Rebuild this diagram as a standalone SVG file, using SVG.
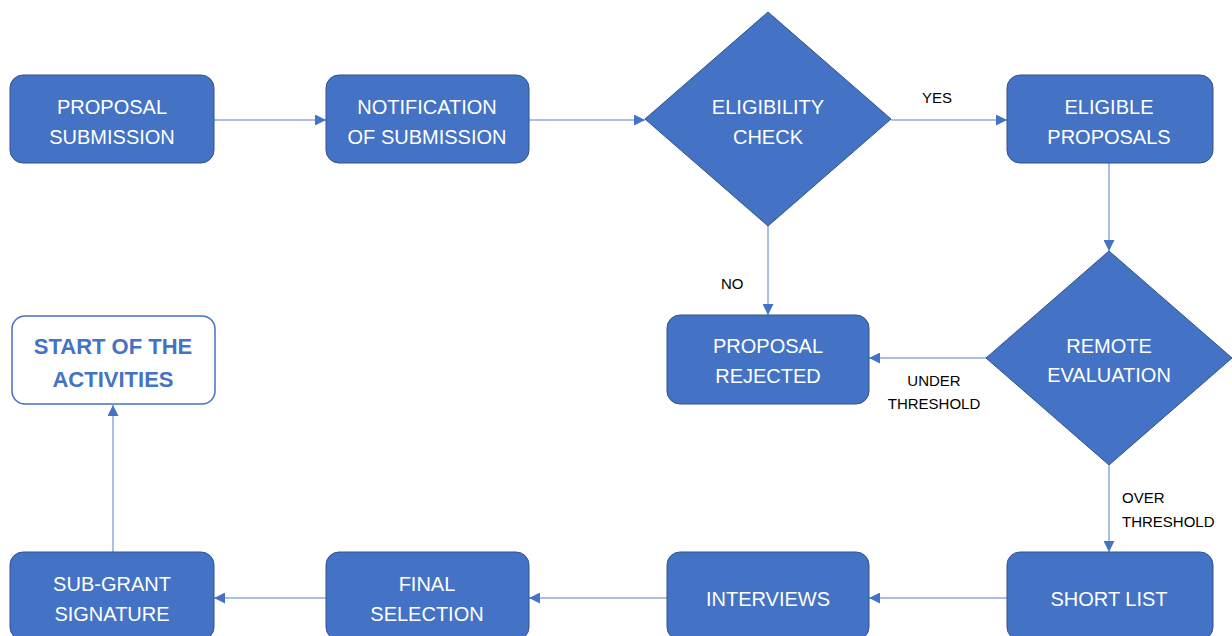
<svg xmlns="http://www.w3.org/2000/svg" width="1232" height="636" viewBox="0 0 1232 636">
<defs>
<style>
.box{fill:#4472C4;stroke:#2F528F;stroke-width:1}
.white{fill:#FFFFFF;stroke:#4472C4;stroke-width:1.5}
.t{font-family:"Liberation Sans",Arial,sans-serif;font-size:20px;fill:#FFFFFF;text-anchor:middle}
.tb{font-family:"Liberation Sans",Arial,sans-serif;font-size:22px;font-weight:bold;fill:#4472C4;text-anchor:middle}
.lbl{font-family:"Liberation Sans",Arial,sans-serif;font-size:15px;fill:#000000}
.c{stroke:#8FAADC;stroke-width:1.5;fill:none;marker-end:url(#ah)}
</style>
<marker id="ah" viewBox="0 0 10 10" refX="10" refY="5" markerWidth="11" markerHeight="11" markerUnits="userSpaceOnUse" orient="auto">
<path d="M0,0 L10,5 L0,10 Z" fill="#4472C4"/>
</marker>
</defs>
<rect width="1232" height="636" fill="#FFFFFF"/>
<g id="connectors">
<line class="c" x1="214" y1="120" x2="326" y2="120"/>
<line class="c" x1="529" y1="120" x2="645" y2="120"/>
<line class="c" x1="891" y1="120" x2="1007" y2="120"/>
<line class="c" x1="1109" y1="163" x2="1109" y2="251"/>
<line class="c" x1="768" y1="226" x2="768" y2="315"/>
<line class="c" x1="986" y1="358" x2="869" y2="358"/>
<line class="c" x1="1109" y1="465" x2="1109" y2="552"/>
<line class="c" x1="1007" y1="598" x2="869" y2="598"/>
<line class="c" x1="667" y1="598" x2="529" y2="598"/>
<line class="c" x1="326" y1="598" x2="214" y2="598"/>
<line class="c" x1="113" y1="552" x2="113" y2="405"/>
<text class="lbl" x="922" y="103">YES</text>
<text class="lbl" x="721" y="289">NO</text>
<text class="lbl" x="934" y="386" text-anchor="middle">UNDER</text>
<text class="lbl" x="934" y="409" text-anchor="middle">THRESHOLD</text>
<text class="lbl" x="1122" y="503">OVER</text>
<text class="lbl" x="1122" y="527">THRESHOLD</text>
</g>
<g id="proposal-submission">
<rect class="box" x="10" y="75" width="204" height="88" rx="13"/>
<text class="t" x="112" y="114">PROPOSAL</text>
<text class="t" x="112" y="144">SUBMISSION</text>
</g>
<g id="notification">
<rect class="box" x="326" y="75" width="203" height="88" rx="13"/>
<text class="t" x="427" y="114">NOTIFICATION</text>
<text class="t" x="427" y="144">OF SUBMISSION</text>
</g>
<g id="eligibility-check">
<polygon class="box" points="768,12 891,119 768,226 645,119"/>
<text class="t" x="768" y="114">ELIGIBILITY</text>
<text class="t" x="768" y="144">CHECK</text>
</g>
<g id="eligible-proposals">
<rect class="box" x="1007" y="75" width="206" height="88" rx="13"/>
<text class="t" x="1109" y="114">ELIGIBLE</text>
<text class="t" x="1109" y="144">PROPOSALS</text>
</g>
<g id="remote-evaluation">
<polygon class="box" points="1109,251 1232,358 1109,465 986,358"/>
<text class="t" x="1109" y="353">REMOTE</text>
<text class="t" x="1109" y="382">EVALUATION</text>
</g>
<g id="proposal-rejected">
<rect class="box" x="667" y="315" width="202" height="89" rx="13"/>
<text class="t" x="768" y="353">PROPOSAL</text>
<text class="t" x="768" y="383">REJECTED</text>
</g>
<g id="start-activities">
<rect class="white" x="12" y="316" width="203" height="88" rx="13"/>
<text class="tb" x="113" y="354">START OF THE</text>
<text class="tb" x="113" y="387">ACTIVITIES</text>
</g>
<g id="sub-grant-signature">
<rect class="box" x="10" y="552" width="204" height="88" rx="13"/>
<text class="t" x="112" y="591">SUB-GRANT</text>
<text class="t" x="112" y="621">SIGNATURE</text>
</g>
<g id="final-selection">
<rect class="box" x="326" y="552" width="203" height="88" rx="13"/>
<text class="t" x="427" y="591">FINAL</text>
<text class="t" x="427" y="621">SELECTION</text>
</g>
<g id="interviews">
<rect class="box" x="667" y="552" width="202" height="88" rx="13"/>
<text class="t" x="768" y="606">INTERVIEWS</text>
</g>
<g id="short-list">
<rect class="box" x="1007" y="552" width="206" height="88" rx="13"/>
<text class="t" x="1109" y="606">SHORT LIST</text>
</g>
</svg>
